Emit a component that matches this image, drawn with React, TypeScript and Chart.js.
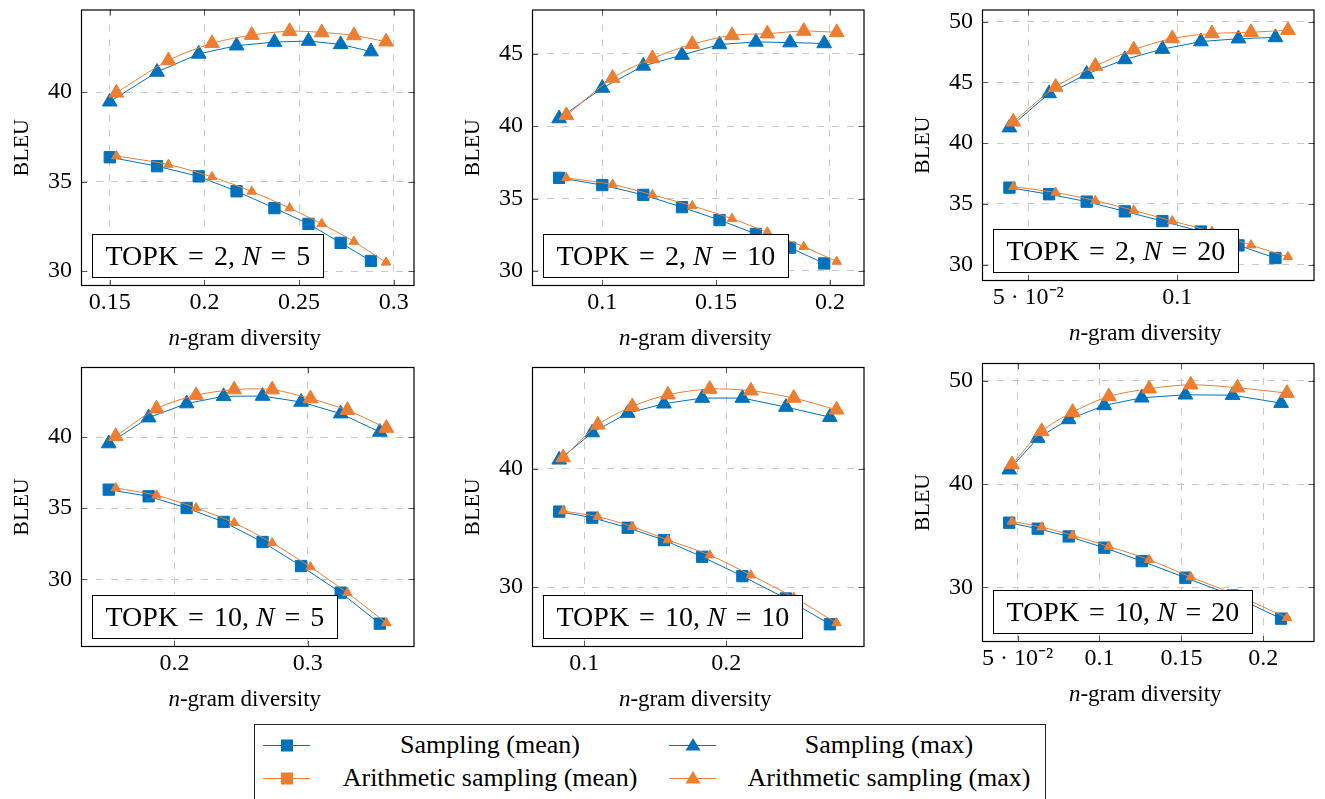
import React, { useEffect, useRef } from 'react';
import { Chart, registerables } from 'chart.js';

Chart.register(...registerables);

const BLUE = '#0072BD';
const ORANGE = '#ED7D31';
const FONT = '"Liberation Serif", "Times New Roman", serif';

// ---------- DATA ----------
// Panel 1: TOPK = 2, N = 5
const p1SampX = [0.150, 0.175, 0.197, 0.217, 0.237, 0.255, 0.272, 0.288];
const p1SampMean = [36.36, 35.86, 35.29, 34.46, 33.52, 32.64, 31.58, 30.57];
const p1SampMax = [39.46, 41.12, 42.13, 42.59, 42.79, 42.85, 42.66, 42.26];
const p1ArithX = [0.1535, 0.181, 0.204, 0.225, 0.245, 0.262, 0.279, 0.296];
const p1ArithMean = [36.43, 35.95, 35.26, 34.45, 33.52, 32.64, 31.65, 30.49];
const p1ArithMax = [39.96, 41.76, 42.72, 43.18, 43.40, 43.33, 43.16, 42.81];

// Panel 2: TOPK = 2, N = 10
const p2SampX = [0.081, 0.100, 0.118, 0.135, 0.1515, 0.1675, 0.1825, 0.1975];
const p2SampMean = [36.43, 35.93, 35.25, 34.40, 33.51, 32.55, 31.60, 30.51];
const p2SampMax = [40.53, 42.64, 44.17, 44.92, 45.65, 45.83, 45.78, 45.72];
const p2ArithX = [0.0842, 0.1045, 0.122, 0.1395, 0.157, 0.1725, 0.1885, 0.203];
const p2ArithMean = [36.43, 35.97, 35.25, 34.49, 33.60, 32.67, 31.67, 30.64];
const p2ArithMax = [40.75, 43.33, 44.69, 45.67, 46.28, 46.40, 46.58, 46.49];

// Panel 3: TOPK = 2, N = 20
const p3SampX = [0.0437, 0.057, 0.0696, 0.0824, 0.095, 0.1079, 0.1205, 0.1329];
const p3SampMean = [36.34, 35.80, 35.19, 34.39, 33.59, 32.73, 31.59, 30.55];
const p3SampMax = [41.28, 44.09, 45.69, 46.89, 47.74, 48.36, 48.60, 48.70];
const p3ArithX = [0.045, 0.0592, 0.0725, 0.0854, 0.0983, 0.1116, 0.1247, 0.1371];
const p3ArithMean = [36.42, 35.94, 35.27, 34.47, 33.59, 32.73, 31.61, 30.65];
const p3ArithMax = [41.76, 44.62, 46.35, 47.69, 48.62, 49.02, 49.13, 49.29];

// Panel 4: TOPK = 10, N = 5
const p4SampX = [0.1508, 0.1807, 0.2092, 0.2369, 0.2661, 0.295, 0.3247, 0.354];
const p4SampMean = [36.30, 35.83, 35.01, 34.03, 32.62, 30.93, 29.06, 26.88];
const p4SampMax = [39.54, 41.36, 42.35, 42.86, 42.88, 42.46, 41.64, 40.35];
const p4ArithX = [0.156, 0.1866, 0.2163, 0.2448, 0.2733, 0.302, 0.3297, 0.3589];
const p4ArithMean = [36.42, 35.90, 35.01, 33.96, 32.55, 30.86, 29.04, 26.93];
const p4ArithMax = [40.05, 41.99, 42.93, 43.33, 43.33, 42.70, 41.88, 40.63];

// Panel 5: TOPK = 10, N = 10
const p5SampX = [0.0823, 0.1056, 0.1306, 0.1561, 0.1831, 0.2114, 0.2421, 0.2731];
const p5SampMean = [36.37, 35.86, 35.01, 33.97, 32.56, 30.93, 29.04, 26.87];
const p5SampMax = [40.74, 43.04, 44.68, 45.47, 45.95, 45.95, 45.19, 44.34];
const p5ArithX = [0.0851, 0.1095, 0.1338, 0.1589, 0.1884, 0.2174, 0.2476, 0.2778];
const p5ArithMean = [36.42, 35.94, 35.10, 33.97, 32.70, 31.01, 29.13, 26.98];
const p5ArithMax = [40.93, 43.69, 45.24, 46.23, 46.71, 46.57, 45.95, 44.96];

// Panel 6: TOPK = 10, N = 20
const p6SampX = [0.0449, 0.0623, 0.0812, 0.1029, 0.1258, 0.1524, 0.1812, 0.2108];
const p6SampMean = [36.26, 35.68, 34.93, 33.84, 32.54, 30.93, 29.21, 26.96];
const p6SampMax = [41.40, 44.46, 46.27, 47.63, 48.37, 48.66, 48.62, 47.85];
const p6ArithX = [0.0466, 0.0647, 0.0836, 0.1057, 0.1303, 0.1557, 0.1842, 0.2144];
const p6ArithMean = [36.39, 35.83, 35.03, 33.96, 32.67, 30.99, 29.21, 27.05];
const p6ArithMax = [41.91, 45.11, 46.98, 48.50, 49.24, 49.63, 49.34, 48.82];

// Ticks
const p1XTicks = [0.15, 0.2, 0.25, 0.3];
const p1XLabels = ['0.15', '0.2', '0.25', '0.3'];
const p1YTicks = [30, 35, 40];
const p2XTicks = [0.1, 0.15, 0.2];
const p2XLabels = ['0.1', '0.15', '0.2'];
const p2YTicks = [30, 35, 40, 45];
const p3XTicks = [0.05, 0.1];
const p3XLabels = ['5 · 10⁻²', '0.1'];
const p3YTicks = [30, 35, 40, 45, 50];
const p4XTicks = [0.2, 0.3];
const p4XLabels = ['0.2', '0.3'];
const p4YTicks = [30, 35, 40];
const p5XTicks = [0.1, 0.2];
const p5XLabels = ['0.1', '0.2'];
const p5YTicks = [30, 40];
const p6XTicks = [0.05, 0.1, 0.15, 0.2];
const p6XLabels = ['5 · 10⁻²', '0.1', '0.15', '0.2'];
const p6YTicks = [30, 40, 50];

const TOPK_VALUES = [2, 2, 2, 10, 10, 10];
const N_VALUES = [5, 10, 20, 5, 10, 20];

const LEGEND_LABELS = [
  'Sampling (mean)',
  'Sampling (max)',
  'Arithmetic sampling (mean)',
  'Arithmetic sampling (max)',
];

// ---------- PANEL SETUP ----------
type PanelDef = {
  sampX: number[]; sampMean: number[]; sampMax: number[];
  arithX: number[]; arithMean: number[]; arithMax: number[];
  xTicks: number[]; xLabels: string[]; yTicks: number[];
  xMin: number; xMax: number; yMin: number; yMax: number;
  topk: number; n: number;
  plot: [number, number, number, number];
  rowTop: number;
};

const PANELS: PanelDef[] = [
  { sampX: p1SampX, sampMean: p1SampMean, sampMax: p1SampMax, arithX: p1ArithX, arithMean: p1ArithMean, arithMax: p1ArithMax,
    xTicks: p1XTicks, xLabels: p1XLabels, yTicks: p1YTicks, xMin: 0.1348, xMax: 0.311, yMin: 29.17, yMax: 44.61,
    topk: TOPK_VALUES[0], n: N_VALUES[0], plot: [81, 6, 418, 286], rowTop: 0 },
  { sampX: p2SampX, sampMean: p2SampMean, sampMax: p2SampMax, arithX: p2ArithX, arithMean: p2ArithMean, arithMax: p2ArithMax,
    xTicks: p2XTicks, xLabels: p2XLabels, yTicks: p2YTicks, xMin: 0.0691, xMax: 0.2152, yMin: 28.95, yMax: 48.07,
    topk: TOPK_VALUES[1], n: N_VALUES[1], plot: [532, 6, 868, 286], rowTop: 0 },
  { sampX: p3SampX, sampMean: p3SampMean, sampMax: p3SampMax, arithX: p3ArithX, arithMean: p3ArithMean, arithMax: p3ArithMax,
    xTicks: p3XTicks, xLabels: p3XLabels, yTicks: p3YTicks, xMin: 0.0345, xMax: 0.146, yMin: 28.66, yMax: 51.0,
    topk: TOPK_VALUES[2], n: N_VALUES[2], plot: [982, 2, 1318, 281], rowTop: 0 },
  { sampX: p4SampX, sampMean: p4SampMean, sampMax: p4SampMax, arithX: p4ArithX, arithMean: p4ArithMean, arithMax: p4ArithMax,
    xTicks: p4XTicks, xLabels: p4XLabels, yTicks: p4YTicks, xMin: 0.130, xMax: 0.380, yMin: 25.24, yMax: 44.92,
    topk: TOPK_VALUES[3], n: N_VALUES[3], plot: [81, 367, 418, 647], rowTop: 345 },
  { sampX: p5SampX, sampMean: p5SampMean, sampMax: p5SampMax, arithX: p5ArithX, arithMean: p5ArithMean, arithMax: p5ArithMax,
    xTicks: p5XTicks, xLabels: p5XLabels, yTicks: p5YTicks, xMin: 0.0631, xMax: 0.2975, yMin: 24.95, yMax: 48.57,
    topk: TOPK_VALUES[4], n: N_VALUES[4], plot: [532, 367, 868, 647], rowTop: 345 },
  { sampX: p6SampX, sampMean: p6SampMean, sampMax: p6SampMax, arithX: p6ArithX, arithMean: p6ArithMean, arithMax: p6ArithMax,
    xTicks: p6XTicks, xLabels: p6XLabels, yTicks: p6YTicks, xMin: 0.0283, xMax: 0.2312, yMin: 24.7, yMax: 51.74,
    topk: TOPK_VALUES[5], n: N_VALUES[5], plot: [982, 363, 1318, 642], rowTop: 345 },
];

const Y_AXIS_W = 81;
const X_AXIS_H = 75;
const RIGHT_PAD = 6;
const TICK_FONT = 24;

function zip(xs: number[], ys: number[]) {
  return xs.map((x, i) => ({ x, y: ys[i] }));
}

function makeDecor(p: PanelDef) {
  return {
    id: 'panelDecor',
    afterDraw(chart: any) {
      const { ctx, chartArea: a } = chart;
      const xs = chart.scales.x;
      const ys = chart.scales.y;
      ctx.save();
      // inner tick marks
      ctx.strokeStyle = '#555';
      ctx.lineWidth = 1;
      ctx.setLineDash([]);
      ctx.beginPath();
      for (const v of p.xTicks) {
        const px = Math.round(xs.getPixelForValue(v)) + 0.5;
        ctx.moveTo(px, a.bottom); ctx.lineTo(px, a.bottom - 6);
        ctx.moveTo(px, a.top); ctx.lineTo(px, a.top + 6);
      }
      for (const v of p.yTicks) {
        const py = Math.round(ys.getPixelForValue(v)) + 0.5;
        ctx.moveTo(a.left, py); ctx.lineTo(a.left + 6, py);
        ctx.moveTo(a.right, py); ctx.lineTo(a.right - 6, py);
      }
      ctx.stroke();
      // frame
      ctx.strokeStyle = '#000';
      ctx.lineWidth = 1.2;
      ctx.strokeRect(a.left + 0.5, a.top + 0.5, a.right - a.left - 1, a.bottom - a.top - 1);

      // annotation box
      const fs = 28;
      const parts = [
        { t: 'TOPK', it: false },
        { t: ' = ', it: false },
        { t: String(p.topk) + ', ', it: false },
        { t: 'N', it: true },
        { t: ' = ', it: false },
        { t: String(p.n), it: false },
      ];
      const widths = parts.map((s) => {
        ctx.font = `${s.it ? 'italic ' : ''}${fs}px ${FONT}`;
        return ctx.measureText(s.t).width + (s.t === ' = ' ? 6 : 0);
      });
      const tw = widths.reduce((s, w) => s + w, 0);
      const padX = 13;
      const bh = 43;
      const bx = Math.round(a.left + 11) + 0.5;
      const bBottom = Math.round(a.bottom - 9) + 0.5;
      const by = bBottom - bh;
      const bw = Math.round(tw + padX * 2);
      ctx.fillStyle = '#fff';
      ctx.fillRect(bx, by, bw, bh);
      ctx.strokeStyle = '#000';
      ctx.lineWidth = 1;
      ctx.strokeRect(bx, by, bw, bh);
      ctx.fillStyle = '#000';
      ctx.textBaseline = 'alphabetic';
      ctx.textAlign = 'left';
      let cx = bx + padX;
      const base = by + bh / 2 + fs * 0.33;
      parts.forEach((s, i) => {
        ctx.font = `${s.it ? 'italic ' : ''}${fs}px ${FONT}`;
        const extra = s.t === ' = ' ? 3 : 0;
        ctx.fillText(s.t, cx + extra, base);
        cx += widths[i];
      });

      // x axis title: "n-gram diversity"
      const tfs = 23;
      ctx.font = `italic ${tfs}px ${FONT}`;
      const w1 = ctx.measureText('n').width;
      ctx.font = `${tfs}px ${FONT}`;
      const w2 = ctx.measureText('-gram diversity').width;
      const tx = (a.left + a.right) / 2 - (w1 + w2) / 2 - 3;
      const ty = a.bottom + 58.5;
      ctx.font = `italic ${tfs}px ${FONT}`;
      ctx.fillText('n', tx, ty);
      ctx.font = `${tfs}px ${FONT}`;
      ctx.fillText('-gram diversity', tx + w1, ty);
      ctx.restore();
    },
  };
}

function PanelChart({ p }: { p: PanelDef }) {
  const ref = useRef<HTMLCanvasElement | null>(null);
  const [pl, pt, pr, pb] = p.plot;
  const left = pl - Y_AXIS_W;
  const top = p.rowTop;
  const width = pr - pl + Y_AXIS_W + RIGHT_PAD;
  const height = pb - top + X_AXIS_H;

  useEffect(() => {
    if (!ref.current) return;
    const common = { borderWidth: 1, pointBorderWidth: 1 };
    const chart = new Chart(ref.current, {
      type: 'line',
      data: {
        datasets: [
          { ...common, label: LEGEND_LABELS[0], data: zip(p.sampX, p.sampMean), borderColor: BLUE, backgroundColor: BLUE,
            pointStyle: 'rect', pointRadius: 8, pointBorderColor: BLUE, pointBackgroundColor: BLUE, tension: 0, order: 2 },
          { ...common, label: LEGEND_LABELS[1], data: zip(p.sampX, p.sampMax), borderColor: BLUE, backgroundColor: BLUE,
            pointStyle: 'triangle', pointRadius: 8.5, pointBorderColor: BLUE, pointBackgroundColor: BLUE, tension: 0, order: 2 },
          { ...common, label: LEGEND_LABELS[2], data: zip(p.arithX, p.arithMean), borderColor: ORANGE, backgroundColor: ORANGE,
            pointStyle: 'triangle', pointRadius: 5.5, pointBorderColor: ORANGE, pointBackgroundColor: ORANGE, tension: 0.3, order: 1 },
          { ...common, label: LEGEND_LABELS[3], data: zip(p.arithX, p.arithMax), borderColor: ORANGE, backgroundColor: ORANGE,
            pointStyle: 'triangle', pointRadius: 8.5, pointBorderColor: ORANGE, pointBackgroundColor: ORANGE, tension: 0.3, order: 1 },
        ],
      },
      options: {
        animation: false,
        responsive: false,
        devicePixelRatio: 1,
        layout: { padding: { left: 0, top: pt - top, right: RIGHT_PAD, bottom: 0 } },
        plugins: { legend: { display: false }, tooltip: { enabled: false } },
        events: [],
        scales: {
          x: {
            type: 'linear',
            position: 'bottom',
            min: p.xMin,
            max: p.xMax,
            afterBuildTicks: (s: any) => { s.ticks = p.xTicks.map((v) => ({ value: v })); },
            afterFit: (s: any) => { s.height = X_AXIS_H; s.paddingLeft = 0; s.paddingRight = 0; },
            ticks: {
              autoSkip: false,
              maxRotation: 0,
              padding: 2,
              color: '#000',
              font: { family: FONT, size: TICK_FONT },
              callback: (v: any) => { const i = p.xTicks.findIndex((t) => Math.abs(t - Number(v)) < 1e-9); return i >= 0 ? p.xLabels[i] : ''; },
            },
            grid: { color: '#c8c8c8', lineWidth: 1, drawTicks: false },
            border: { display: false, dash: [7, 8] },
          },
          y: {
            type: 'linear',
            position: 'left',
            min: p.yMin,
            max: p.yMax,
            afterBuildTicks: (s: any) => { s.ticks = p.yTicks.map((v) => ({ value: v })); },
            afterFit: (s: any) => { s.width = Y_AXIS_W; s.paddingTop = 0; s.paddingBottom = 0; },
            ticks: {
              autoSkip: false,
              padding: 9,
              color: '#000',
              font: { family: FONT, size: TICK_FONT },
              callback: (v: any) => String(v),
            },
            title: { display: true, text: 'BLEU', color: '#000', font: { family: FONT, size: 22 }, padding: { top: 9, bottom: 0 } },
            grid: { color: '#c8c8c8', lineWidth: 1, drawTicks: false },
            border: { display: false, dash: [7, 8] },
          },
        },
      },
      plugins: [makeDecor(p)],
    } as any);
    return () => chart.destroy();
  }, []);

  return (
    <canvas
      ref={ref}
      width={width}
      height={height}
      style={{ position: 'absolute', left, top, width, height }}
    />
  );
}

function Marker({ x, y, color, shape }: { x: number; y: number; color: string; shape: 'square' | 'triangle' }) {
  return (
    <svg style={{ position: 'absolute', left: x - 26, top: y - 10, overflow: 'visible' }} width={52} height={20}>
      <line x1={2} y1={10.5} x2={49} y2={10.5} stroke={color} strokeWidth={1.2} />
      {shape === 'square' ? (
        <rect x={26 - 6} y={10.5 - 6} width={12} height={12} fill={color} />
      ) : (
        <polygon points={`26,3 33.5,15.5 18.5,15.5`} fill={color} />
      )}
    </svg>
  );
}

export default function App() {
  const legendItems = [
    { label: LEGEND_LABELS[0], color: BLUE, shape: 'square' as const, mx: 287, tx: 490, y: 745 },
    { label: LEGEND_LABELS[1], color: BLUE, shape: 'triangle' as const, mx: 693, tx: 889, y: 745 },
    { label: LEGEND_LABELS[2], color: ORANGE, shape: 'square' as const, mx: 287, tx: 490, y: 778 },
    { label: LEGEND_LABELS[3], color: ORANGE, shape: 'triangle' as const, mx: 693, tx: 889, y: 778 },
  ];
  return (
    <div style={{ position: 'absolute', left: 0, top: 0, width: 1325, height: 799, overflow: 'hidden', background: '#fff', fontFamily: FONT }}>
      {PANELS.map((p, i) => (
        <PanelChart key={i} p={p} />
      ))}
      <div style={{ position: 'absolute', left: 254, top: 724, width: 792, height: 100, border: '1px solid #222', boxSizing: 'border-box', background: '#fff' }} />
      {legendItems.map((it, i) => (
        <React.Fragment key={i}>
          <Marker x={it.mx} y={it.y} color={it.color} shape={it.shape} />
          <div style={{ position: 'absolute', left: it.tx, top: it.y, transform: 'translate(-50%, -50%)', whiteSpace: 'nowrap', fontSize: 26, lineHeight: '30px', color: '#000' }}>
            {it.label}
          </div>
        </React.Fragment>
      ))}
    </div>
  );
}
